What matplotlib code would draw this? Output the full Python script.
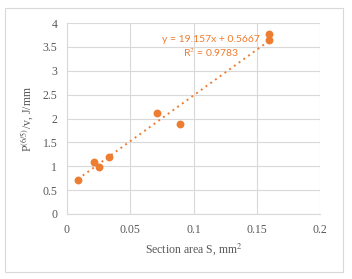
import matplotlib
matplotlib.use("Agg")
import matplotlib.pyplot as plt
import numpy as np
from matplotlib.patches import Rectangle

section_area = [0.0087, 0.021, 0.025, 0.033, 0.071, 0.089, 0.160, 0.160]
p_over_v = [0.71, 1.08, 0.98, 1.20, 2.12, 1.88, 3.78, 3.65]
slope, intercept = 19.157, 0.5667
r2 = 0.9783
x_ticks = [0, 0.05, 0.1, 0.15, 0.2]
x_tick_labels = ["0", "0.05", "0.1", "0.15", "0.2"]
y_ticks = [0, 0.5, 1, 1.5, 2, 2.5, 3, 3.5, 4]
y_tick_labels = ["0", "0.5", "1", "1.5", "2", "2.5", "3", "3.5", "4"]

orange = "#ED7D31"
grid = "#D9D9D9"
txt = "#595959"

plt.rcParams["mathtext.fontset"] = "stix"
fig = plt.figure(figsize=(3.52, 2.79), dpi=100)
fig.patches.append(Rectangle((5/352, 1 - 272/279), 338/352, 264/279, transform=fig.transFigure,
                             fill=False, edgecolor=grid, linewidth=0.8))
ax = fig.add_axes([67/352, 1 - 214/279, 253/352, 191/279])
ax.set_xlim(0, 0.2)
ax.set_ylim(0, 4)
ax.set_xticks(x_ticks)
ax.set_xticklabels(x_tick_labels)
ax.set_yticks(y_ticks)
ax.set_yticklabels(y_tick_labels)
ax.grid(True, color=grid, linewidth=0.8)
ax.set_axisbelow(True)
for s in ["top", "right"]:
    ax.spines[s].set_visible(False)
for s in ["left", "bottom"]:
    ax.spines[s].set_color(grid)
ax.tick_params(length=0, colors=txt, labelsize=8.5, pad=7)
for lab in ax.get_xticklabels() + ax.get_yticklabels():
    lab.set_family("Liberation Serif")

xs = np.array([min(section_area), max(section_area)])
ax.plot(xs, slope * xs + intercept, linestyle=(0, (1, 2)), color=orange, linewidth=1.4, zorder=2)
ax.scatter(section_area, p_over_v, s=32, color=orange, zorder=3, linewidths=0)

ax.text(0.1138, 3.66, f"y = {slope}x + {intercept}", color=orange, fontsize=7.5,
        family="Lato", ha="center", va="center")
ax.text(0.1138, 3.39, f"R$^{{2}}$ = {r2}", color=orange, fontsize=7.5,
        family="Lato", ha="center", va="center")

ax.set_xlabel(r"Section area S, mm$^{2}$", family="Liberation Serif", fontsize=8.5, color=txt, labelpad=4)
ax.set_ylabel(r"P$^{(6/5)}$/v, J/mm", family="Liberation Serif", fontsize=8.5, color=txt, labelpad=5)

fig.savefig("out.png", dpi=100)
